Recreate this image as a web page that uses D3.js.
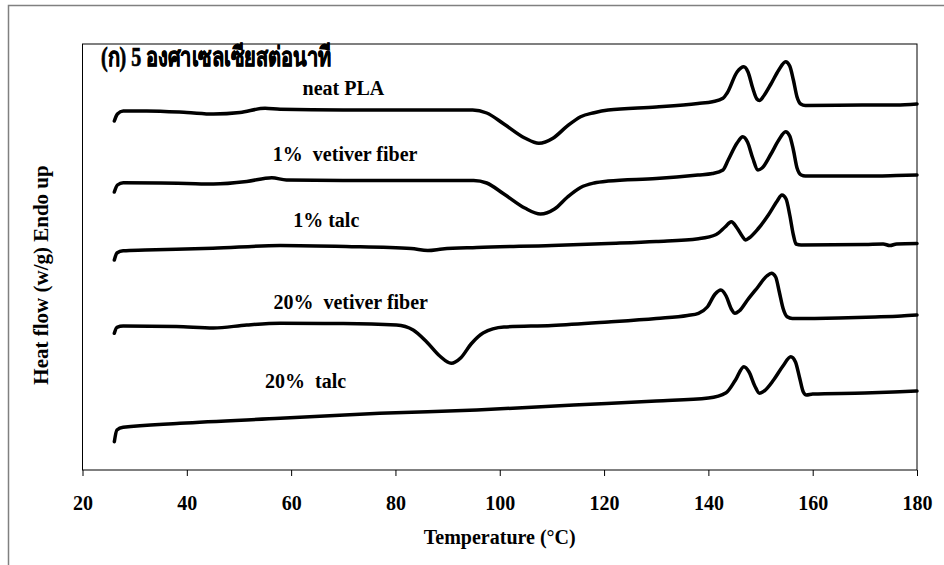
<!DOCTYPE html>
<meta charset="utf-8">
<style>
body { margin: 0; background: #fff; }
svg text { font-family: "Liberation Serif", "Times New Roman", serif; font-weight: bold; fill: #000; }
.curve { fill: none; stroke: #000; stroke-width: 3.5px; stroke-linejoin: round; stroke-linecap: round; }
.frame { fill: none; stroke: #000; stroke-width: 1px; }
.outer { fill: none; stroke: #808080; stroke-width: 1.5px; }
.tick text { font-size: 20px; }
.lbl { font-size: 20px; }
.title { stroke: #000; stroke-width: 0.7px; }
</style>
<svg width="944" height="565"></svg>
<script src="https://d3js.org/d3.v7.min.js"></script>
<script>

// DSC traces, [temperature °C, heat flow (arbitrary, stacked)]
var neatPLA = [[26.1,34.9],[26.7,35.6],[27.8,35.9],[32.3,35.9],[40,35.75],[45.1,35.6],[50.2,35.75],[55,36.17],[57.9,36.07],
  [70,36.0],[85,36.0],[94.8,36.0],[97.5,35.7],[100.8,34.6],[104.8,33.2],[107.5,32.67],[110.2,33.17],[112.8,34.33],[115.5,35.33],
  [118.1,35.73],[120.8,36.0],[130,36.3],[138,36.65],[140.8,36.83],[142.8,37.17],[143.6,37.7],[145.5,39.8],[146.8,40.33],[147.6,39.8],
  [148.5,38.2],[149.3,37.1],[149.8,36.95],[150.6,37.4],[152,38.6],[153.5,40.0],[154.8,40.83],[155.6,40.4],[156.3,39.0],[157,37.3],
  [157.7,36.6],[158.6,36.45],[170,36.5],[176,36.5],[180,36.6]];

var vetiver1 = [[26.1,27.8],[26.7,28.5],[27.8,28.73],[35,28.7],[40,28.65],[45.1,28.6],[51.5,28.85],[56.3,29.23],[59.1,29.0],
  [70,28.95],[85,28.95],[95,28.95],[97.5,28.7],[100.8,27.6],[104.8,26.2],[107.8,25.6],[110.5,26.1],[113,27.3],[115.5,28.25],
  [118.1,28.7],[120.8,28.9],[130,29.15],[138,29.5],[140.8,29.65],[142.8,30.0],[143.8,31.0],[145.5,32.7],[146.6,33.33],[147.5,32.8],
  [148.5,31.2],[149.5,30.0],[150.3,30.2],[152,31.6],[153.5,33.0],[154.8,33.83],[155.6,33.4],[156.3,32.0],[157,30.2],[157.8,29.5],
  [158.6,29.4],[170,29.4],[176,29.45],[180,29.5]];

var talc1 = [[26.1,21.0],[26.6,21.7],[27.8,21.93],[32,22.0],[45,22.17],[57.9,22.45],[70.5,22.35],[83,22.15],[86.2,21.95],
  [89,22.1],[95.6,22.25],[110,22.45],[120.8,22.65],[130,22.85],[138.1,23.13],[141.5,23.55],[143.2,24.3],[144.4,24.83],[145.5,24.2],
  [146.6,23.3],[147.1,23.0],[147.8,23.2],[149.5,24.1],[151.5,25.5],[153.2,26.9],[154.1,27.5],[154.9,27.1],[155.6,25.5],[156.3,23.5],
  [156.8,22.6],[157.8,22.5],[170,22.55],[173.5,22.6],[174.8,22.45],[176.1,22.6],[180,22.65]];

var vetiver20 = [[26.1,13.67],[26.6,14.27],[27.8,14.4],[38,14.35],[45.1,14.2],[51.5,14.5],[57.9,14.67],[70,14.65],[80.2,14.5],
  [83.4,14.0],[86,12.8],[88.5,11.4],[90.7,10.67],[92.5,11.2],[94.5,12.6],[96.8,13.7],[100.8,14.3],[110,14.45],[120.8,14.8],
  [130,15.15],[136,15.45],[138.1,15.67],[139.8,16.3],[141.3,17.6],[142.4,18.0],[143.4,17.4],[144.4,16.1],[145.1,15.67],[145.9,15.9],
  [147.5,17.0],[149.5,18.3],[151.2,19.4],[152.1,19.67],[152.9,19.3],[153.6,17.8],[154.3,16.2],[155.1,15.33],[156.1,15.15],
  [165,15.2],[172,15.3],[177,15.4],[180,15.5]];

var talc20 = [[26.1,2.83],[26.6,4.0],[27.8,4.27],[38.7,4.67],[57.9,5.17],[77,5.67],[95.6,6.0],[114.2,6.5],[130,6.9],[140,7.2],
  [143.4,7.73],[145.2,9.0],[146.8,10.33],[147.8,9.8],[148.9,8.4],[149.8,7.67],[150.7,7.9],[152.5,9.0],[154.3,10.4],[155.8,11.33],
  [156.7,10.8],[157.5,9.2],[158.2,7.8],[158.8,7.5],[160,7.6],[170,7.7],[176.7,7.83],[180,7.9]];

var seriesNames = ["neat PLA", "1% \u00a0vetiver fiber", "1% talc", "20% \u00a0vetiver fiber", "20% \u00a0talc"];
var seriesData = [neatPLA, vetiver1, talc1, vetiver20, talc20];
// label anchor (temperature, heat flow) for each curve name
var labelAt = [[62.2,37.5],[56.5,30.93],[60.4,24.33],[56.6,16.1],[55.0,8.23]];

var xTicks = [20,40,60,80,100,120,140,160,180];
var title = "(ก) 5 องศาเซลเซียสต่อนาที";
var xTitle = "Temperature (°C)";
var yTitle = "Heat flow (w/g) Endo up";

var svg = d3.select("svg"),
    margin = {top: 44, right: 27, bottom: 95, left: 82.5},
    width = 944 - margin.left - margin.right,
    height = 565 - margin.top - margin.bottom;

// grey outer chart frame (only top and left show)
svg.append("path").attr("class", "outer")
    .attr("d", "M8.5,570V5.5H950");

var g = svg.append("g").attr("transform", "translate(" + margin.left + "," + margin.top + ")");

var x = d3.scaleLinear().domain([20, 180]).range([0, width]);
var y = d3.scaleLinear().domain([0, 42.6]).range([height, 0]);

g.append("rect").attr("class", "frame")
    .attr("x", 0).attr("y", 0).attr("width", width).attr("height", height);

g.append("g")
    .attr("transform", "translate(0," + height + ")")
    .call(d3.axisBottom(x).tickValues(xTicks).tickSize(6).tickPadding(20).tickFormat(d3.format("d")))
    .call(function(a) { a.select(".domain").remove(); })
    .attr("font-family", null).attr("font-size", null);

var line = d3.line()
    .x(function(d) { return x(d[0]); })
    .y(function(d) { return y(d[1]); })
    .curve(d3.curveMonotoneX);

g.selectAll(".curve")
    .data(seriesData)
  .enter().append("path")
    .attr("class", "curve")
    .attr("d", line);

g.selectAll(".lbl")
    .data(seriesNames)
  .enter().append("text")
    .attr("class", "lbl")
    .attr("x", function(d, i) { return x(labelAt[i][0]); })
    .attr("y", function(d, i) { return y(labelAt[i][1]); })
    .text(function(d) { return d; });

svg.append("text")
    .attr("class", "title")
    .attr("lang", "th")
    .attr("x", 101).attr("y", 66)
    .attr("textLength", 230)
    .attr("lengthAdjust", "spacingAndGlyphs")
    .style("font-size", "27px")
    .text(title);

svg.append("text")
    .attr("x", margin.left + width / 2).attr("y", 544)
    .attr("text-anchor", "middle")
    .style("font-size", "20px")
    .text(xTitle);

svg.append("text")
    .attr("transform", "translate(48,275) rotate(-90)")
    .attr("text-anchor", "middle")
    .style("font-size", "21px")
    .text(yTitle);

</script>
